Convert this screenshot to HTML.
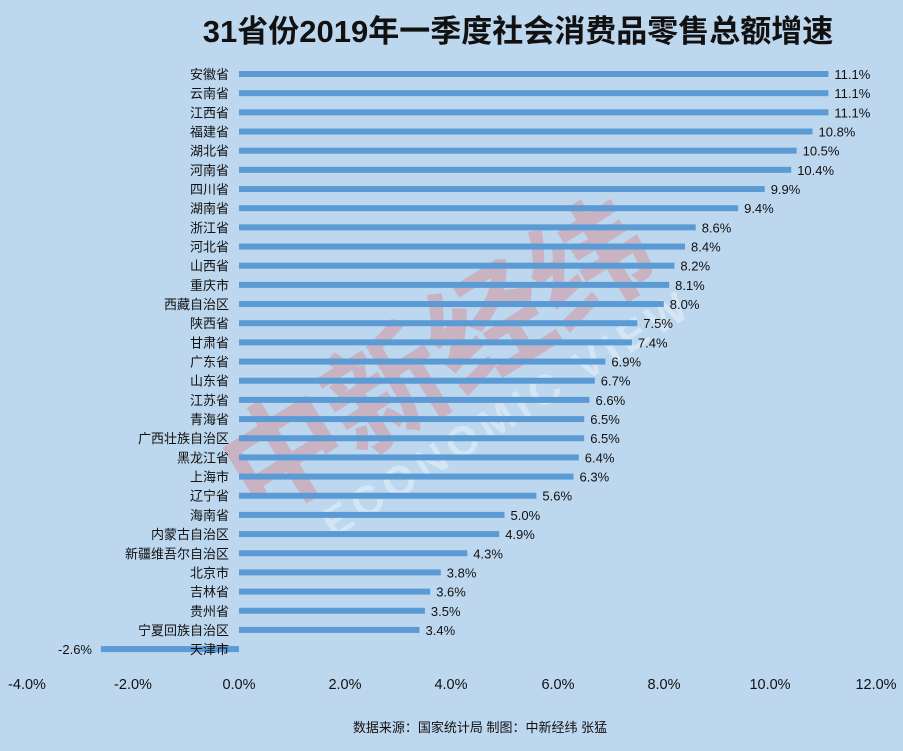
<!DOCTYPE html>
<html><head><meta charset="utf-8"><style>
html,body{margin:0;padding:0;background:#bdd7ee;}
svg{display:block;font-family:"Liberation Sans","Noto Sans CJK SC",sans-serif;}
</style></head><body>
<svg width="903" height="751" viewBox="0 0 903 751" xmlns="http://www.w3.org/2000/svg">
<rect width="903" height="751" fill="#bdd7ee"/>
<text x="518" y="42" font-size="31" font-weight="bold" text-anchor="middle" fill="#111">31省份2019年一季度社会消费品零售总额增速</text>
<g opacity="0.35" transform="rotate(-32 450 360)">
<text x="440" y="395" font-size="120" font-weight="bold" fill="#e07070" text-anchor="middle">中新经纬</text>
<text x="470" y="450" font-size="42" font-weight="bold" fill="#ffffff" text-anchor="middle" letter-spacing="6">ECONOMIC VIEW</text>
</g>
<g font-size="13" fill="#111">
<g transform="translate(0,74)"><rect x="239" y="-3" width="589.4" height="6" fill="#5b9bd5"/><text x="229" y="5" text-anchor="end">安徽省</text><text x="834.4" y="5">11.1%</text></g>
<g transform="translate(0,93.17)"><rect x="239" y="-3" width="589.4" height="6" fill="#5b9bd5"/><text x="229" y="5" text-anchor="end">云南省</text><text x="834.4" y="5">11.1%</text></g>
<g transform="translate(0,112.34)"><rect x="239" y="-3" width="589.4" height="6" fill="#5b9bd5"/><text x="229" y="5" text-anchor="end">江西省</text><text x="834.4" y="5">11.1%</text></g>
<g transform="translate(0,131.51)"><rect x="239" y="-3" width="573.5" height="6" fill="#5b9bd5"/><text x="229" y="5" text-anchor="end">福建省</text><text x="818.5" y="5">10.8%</text></g>
<g transform="translate(0,150.68)"><rect x="239" y="-3" width="557.6" height="6" fill="#5b9bd5"/><text x="229" y="5" text-anchor="end">湖北省</text><text x="802.6" y="5">10.5%</text></g>
<g transform="translate(0,169.85)"><rect x="239" y="-3" width="552.2" height="6" fill="#5b9bd5"/><text x="229" y="5" text-anchor="end">河南省</text><text x="797.2" y="5">10.4%</text></g>
<g transform="translate(0,189.02)"><rect x="239" y="-3" width="525.7" height="6" fill="#5b9bd5"/><text x="229" y="5" text-anchor="end">四川省</text><text x="770.7" y="5">9.9%</text></g>
<g transform="translate(0,208.19)"><rect x="239" y="-3" width="499.1" height="6" fill="#5b9bd5"/><text x="229" y="5" text-anchor="end">湖南省</text><text x="744.1" y="5">9.4%</text></g>
<g transform="translate(0,227.36)"><rect x="239" y="-3" width="456.7" height="6" fill="#5b9bd5"/><text x="229" y="5" text-anchor="end">浙江省</text><text x="701.7" y="5">8.6%</text></g>
<g transform="translate(0,246.53)"><rect x="239" y="-3" width="446" height="6" fill="#5b9bd5"/><text x="229" y="5" text-anchor="end">河北省</text><text x="691" y="5">8.4%</text></g>
<g transform="translate(0,265.7)"><rect x="239" y="-3" width="435.4" height="6" fill="#5b9bd5"/><text x="229" y="5" text-anchor="end">山西省</text><text x="680.4" y="5">8.2%</text></g>
<g transform="translate(0,284.87)"><rect x="239" y="-3" width="430.1" height="6" fill="#5b9bd5"/><text x="229" y="5" text-anchor="end">重庆市</text><text x="675.1" y="5">8.1%</text></g>
<g transform="translate(0,304.04)"><rect x="239" y="-3" width="424.8" height="6" fill="#5b9bd5"/><text x="229" y="5" text-anchor="end">西藏自治区</text><text x="669.8" y="5">8.0%</text></g>
<g transform="translate(0,323.21)"><rect x="239" y="-3" width="398.3" height="6" fill="#5b9bd5"/><text x="229" y="5" text-anchor="end">陕西省</text><text x="643.3" y="5">7.5%</text></g>
<g transform="translate(0,342.38)"><rect x="239" y="-3" width="392.9" height="6" fill="#5b9bd5"/><text x="229" y="5" text-anchor="end">甘肃省</text><text x="637.9" y="5">7.4%</text></g>
<g transform="translate(0,361.55)"><rect x="239" y="-3" width="366.4" height="6" fill="#5b9bd5"/><text x="229" y="5" text-anchor="end">广东省</text><text x="611.4" y="5">6.9%</text></g>
<g transform="translate(0,380.72)"><rect x="239" y="-3" width="355.8" height="6" fill="#5b9bd5"/><text x="229" y="5" text-anchor="end">山东省</text><text x="600.8" y="5">6.7%</text></g>
<g transform="translate(0,399.89)"><rect x="239" y="-3" width="350.5" height="6" fill="#5b9bd5"/><text x="229" y="5" text-anchor="end">江苏省</text><text x="595.5" y="5">6.6%</text></g>
<g transform="translate(0,419.06)"><rect x="239" y="-3" width="345.2" height="6" fill="#5b9bd5"/><text x="229" y="5" text-anchor="end">青海省</text><text x="590.2" y="5">6.5%</text></g>
<g transform="translate(0,438.23)"><rect x="239" y="-3" width="345.2" height="6" fill="#5b9bd5"/><text x="229" y="5" text-anchor="end">广西壮族自治区</text><text x="590.2" y="5">6.5%</text></g>
<g transform="translate(0,457.4)"><rect x="239" y="-3" width="339.8" height="6" fill="#5b9bd5"/><text x="229" y="5" text-anchor="end">黑龙江省</text><text x="584.8" y="5">6.4%</text></g>
<g transform="translate(0,476.57)"><rect x="239" y="-3" width="334.5" height="6" fill="#5b9bd5"/><text x="229" y="5" text-anchor="end">上海市</text><text x="579.5" y="5">6.3%</text></g>
<g transform="translate(0,495.74)"><rect x="239" y="-3" width="297.4" height="6" fill="#5b9bd5"/><text x="229" y="5" text-anchor="end">辽宁省</text><text x="542.4" y="5">5.6%</text></g>
<g transform="translate(0,514.91)"><rect x="239" y="-3" width="265.5" height="6" fill="#5b9bd5"/><text x="229" y="5" text-anchor="end">海南省</text><text x="510.5" y="5">5.0%</text></g>
<g transform="translate(0,534.08)"><rect x="239" y="-3" width="260.2" height="6" fill="#5b9bd5"/><text x="229" y="5" text-anchor="end">内蒙古自治区</text><text x="505.2" y="5">4.9%</text></g>
<g transform="translate(0,553.25)"><rect x="239" y="-3" width="228.3" height="6" fill="#5b9bd5"/><text x="229" y="5" text-anchor="end">新疆维吾尔自治区</text><text x="473.3" y="5">4.3%</text></g>
<g transform="translate(0,572.42)"><rect x="239" y="-3" width="201.8" height="6" fill="#5b9bd5"/><text x="229" y="5" text-anchor="end">北京市</text><text x="446.8" y="5">3.8%</text></g>
<g transform="translate(0,591.59)"><rect x="239" y="-3" width="191.2" height="6" fill="#5b9bd5"/><text x="229" y="5" text-anchor="end">吉林省</text><text x="436.2" y="5">3.6%</text></g>
<g transform="translate(0,610.76)"><rect x="239" y="-3" width="185.9" height="6" fill="#5b9bd5"/><text x="229" y="5" text-anchor="end">贵州省</text><text x="430.9" y="5">3.5%</text></g>
<g transform="translate(0,629.93)"><rect x="239" y="-3" width="180.5" height="6" fill="#5b9bd5"/><text x="229" y="5" text-anchor="end">宁夏回族自治区</text><text x="425.5" y="5">3.4%</text></g>
<g transform="translate(0,649.1)"><rect x="100.9" y="-3" width="138.1" height="6" fill="#5b9bd5"/><text x="229" y="5" text-anchor="end">天津市</text><text x="92" y="5" text-anchor="end">-2.6%</text></g>
</g>
<g font-size="14.5" fill="#111" text-anchor="middle">
<text x="27" y="689">-4.0%</text><text x="133" y="689">-2.0%</text><text x="239" y="689">0.0%</text>
<text x="345" y="689">2.0%</text><text x="451" y="689">4.0%</text><text x="558" y="689">6.0%</text>
<text x="664" y="689">8.0%</text><text x="770" y="689">10.0%</text><text x="876" y="689">12.0%</text>
</g>
<text x="480" y="732" font-size="13" text-anchor="middle" fill="#111">数据来源：国家统计局  制图：中新经纬 张猛</text>
</svg>
</body></html>
